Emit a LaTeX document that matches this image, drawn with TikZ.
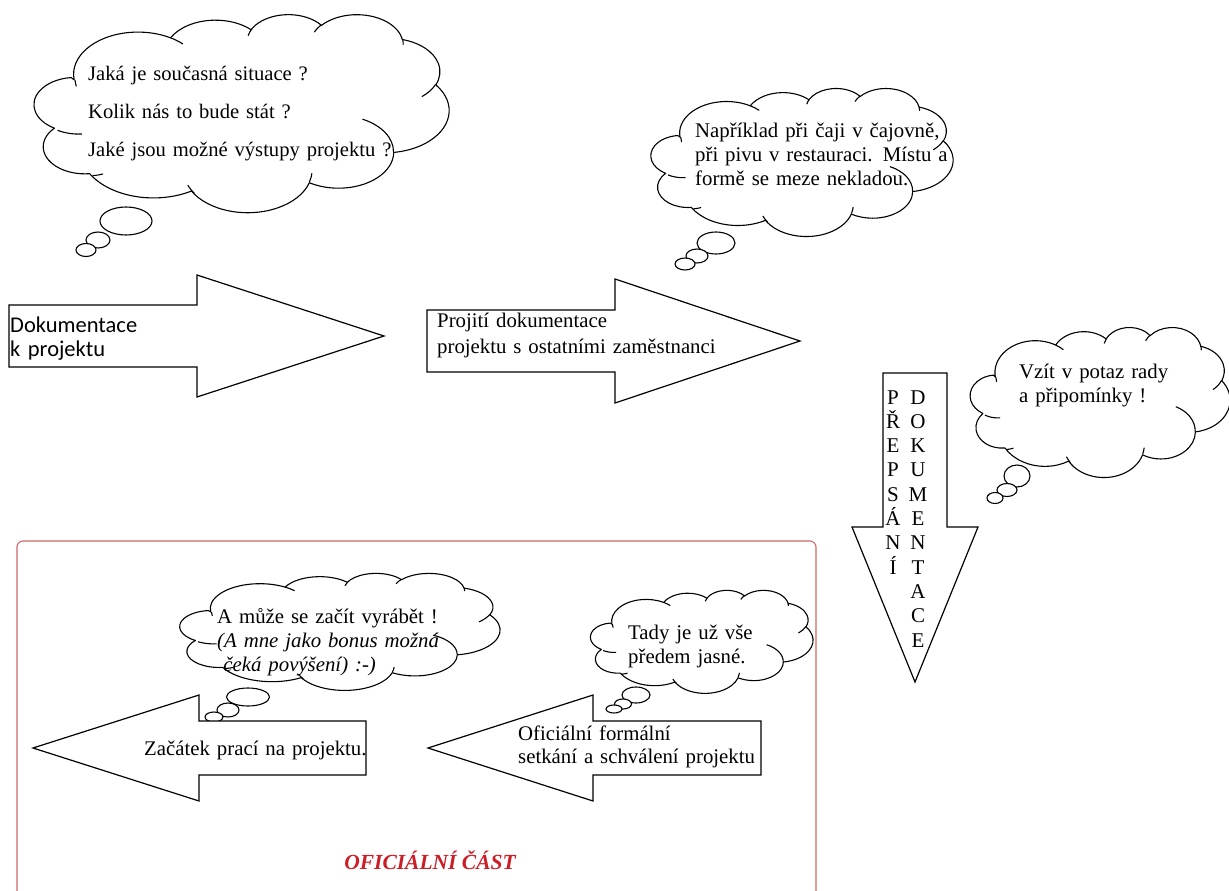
\documentclass[tikz,border=0pt]{standalone}
\usepackage{fontspec}
\setmainfont{Liberation Serif}
\newfontfamily\calibrifont{Carlito}
\definecolor{boxred}{RGB}{205,105,105}
\definecolor{titlered}{RGB}{205,30,40}
\newcommand\tnrwide{\fontsize{20.6}{38}\selectfont}
\newcommand\tnr{\fontsize{20.8}{24}\selectfont}
\newcommand\tnrcol{\fontsize{21}{24.3}\selectfont}
\newcommand\wordcloud[4]{%
 \pgfmathsetmacro\cwx{#3/43.2}%
 \pgfmathsetmacro\cwy{#4/43.2}%
 \begin{scope}[shift={(#1pt,-#2pt)}, x=1pt, y=1pt, xscale=\cwx, yscale=-\cwy]
  \draw[cloud line, fill=white] (3.9,14.37)
   arc[x radius=6.753, y radius=9.19, start angle={vang(-190.48748,6.753,9.19)}, end angle={vang(-66.70695,6.753,9.19)}]
   arc[x radius=5.333, y radius=7.267, start angle={vang(-144.10238,5.333,7.267)}, end angle={vang(-54.15715,5.333,7.267)}]
   arc[x radius=4.365, y radius=5.945, start angle={vang(-145.80792,4.365,5.945)}, end angle={vang(-46.0849,4.365,5.945)}]
   arc[x radius=4.857, y radius=6.595, start angle={vang(-130.98607,4.857,6.595)}, end angle={vang(-13.74434,4.857,6.595)}]
   arc[x radius=5.333, y radius=7.273, start angle={vang(-78.70888,5.333,7.273)}, end angle={vang(30.31804,5.333,7.273)}]
   arc[x radius=6.775, y radius=9.22, start angle={vang(-46.26725,6.775,9.22)}, end angle={vang(84.00175,6.775,9.22)}]
   arc[x radius=5.785, y radius=7.867, start angle={vang(0.62502,5.785,7.867)}, end angle={vang(114.65835,5.785,7.867)}]
   arc[x radius=6.752, y radius=9.215, start angle={vang(22.4624,6.752,9.215)}, end angle={vang(142.74988,6.752,9.215)}]
   arc[x radius=7.72, y radius=10.543, start angle={vang(66.24263,7.72,10.543)}, end angle={vang(141.94663,7.72,10.543)}]
   arc[x radius=4.36, y radius=5.918, start angle={vang(-274.94208,4.36,5.918)}, end angle={vang(-128.20651,4.36,5.918)}]
   arc[x radius=4.345, y radius=5.945, start angle={vang(-246.8285,4.345,5.945)}, end angle={vang(-94.30965,4.345,5.945)}]
   -- cycle;
  \draw[cloud line]
   (4.693,26.177) arc[x radius=4.345, y radius=5.945, start angle={vang(86.742,4.345,5.945)}, end angle={vang(113.1715,4.345,5.945)}]
   (6.928,34.899) arc[x radius=4.36, y radius=5.918, start angle={vang(73.61047,4.36,5.918)}, end angle={vang(85.05794,4.36,5.918)}]
   (16.478,39.09) arc[x radius=6.752, y radius=9.215, start angle={vang(137.62415,6.752,9.215)}, end angle={vang(151.70525,6.752,9.215)}]
   (28.827,34.751) arc[x radius=6.752, y radius=9.215, start angle={vang(6.45327,6.752,9.215)}, end angle={vang(22.45162,6.752,9.215)}]
   (34.129,22.954) arc[x radius=5.785, y radius=7.867, start angle={vang(-70.29235,5.785,7.867)}, end angle={vang(0.62502,5.785,7.867)}]
   (41.798,15.354) arc[x radius=5.333, y radius=7.273, start angle={vang(30.31803,5.333,7.273)}, end angle={vang(58.06953,5.333,7.273)}]
   (38.324,5.426) arc[x radius=4.857, y radius=6.595, start angle={vang(-13.74433,4.857,6.595)}, end angle={vang(1.11457,4.857,6.595)}]
   (29.078,3.952) arc[x radius=4.857, y radius=6.595, start angle={vang(-149.18145,4.857,6.595)}, end angle={vang(-130.98608,4.857,6.595)}]
   (22.141,4.72) arc[x radius=4.365, y radius=5.945, start angle={vang(-163.49427,4.365,5.945)}, end angle={vang(-145.80792,4.365,5.945)}]
   (14.0,5.192) arc[x radius=6.753, y radius=9.19, start angle={vang(-66.70695,6.753,9.19)}, end angle={vang(-54.3876,6.753,9.19)}]
   (4.127,15.789) arc[x radius=6.753, y radius=9.19, start angle={vang(163.69427,6.753,9.19)}, end angle={vang(175.67967,6.753,9.19)}];
 \end{scope}}
\begin{document}
\begin{tikzpicture}[x=1pt, y=-1pt,
  declare function={vang(\va,\vw,\vh)=atan2(\vw*sin(\va),\vh*cos(\va))+360*round((\va-atan2(\vw*sin(\va),\vh*cos(\va)))/360);},
  cloud line/.style={line width=1.1pt, black, line join=round},
  bubble/.style={line width=1.1pt, black, fill=white},
  arrowshape/.style={line width=1.2pt, black, fill=white, line join=miter},
  txt/.style={inner sep=0pt, anchor=base west, align=left, text width=#1},
  txt/.default=420pt,
  column/.style={inner sep=0pt, anchor=base, align=center, text width=20pt, font=\tnrcol},
  boxline/.style={line width=1.1pt, draw=boxred, rounded corners=6pt}]
\useasboundingbox[fill=white] (0,0) rectangle (1229,891);

% official part frame
\draw[boxline] (17,891) -- (17,541) -- (816,541) -- (816,891);

% cloud 1
\wordcloud{37}{14}{412}{198}
\draw[bubble] (126,221) ellipse[x radius=26, y radius=14];
\draw[bubble] (98,240) ellipse[x radius=12, y radius=8];
\draw[bubble] (86,250) ellipse[x radius=10, y radius=6.5];
\node[txt, font=\tnrwide] (q1) at (88,81) {Jaká je současná situace ?\\Kolik nás to bude stát ?\\Jaké jsou možné výstupy projektu ?};

% cloud 2
\wordcloud{653}{88}{300}{148}
\draw[bubble] (716,243) ellipse[x radius=19, y radius=11];
\draw[bubble] (697,256) ellipse[x radius=11, y radius=7];
\draw[bubble] (685,264) ellipse[x radius=10, y radius=6];
\node[txt, font=\tnr] (q2) at (695,137) {Například při čaji v čajovně,\\při pivu v restauraci. Místu a\\formě se meze nekladou.};

% cloud 3
\wordcloud{972}{327}{258}{150}
\draw[bubble] (1017,476) ellipse[x radius=13, y radius=11];
\draw[bubble] (1007,490) ellipse[x radius=10, y radius=6.5];
\draw[bubble] (995,498) ellipse[x radius=8, y radius=5.5];
\node[txt, font=\tnr] (q3) at (1019,378) {Vzít v potaz rady\\a připomínky !};

% arrow 1
\draw[arrowshape] (9,305) -- (197,305) -- (197,275) -- (384,336) -- (197,397) -- (197,367) -- (9,367) -- cycle;
\node[txt, font=\calibrifont\fontsize{22.5}{24}\selectfont] (a1) at (10,332) {Dokumentace\\k projektu};

% arrow 2
\draw[arrowshape] (427,310) -- (615,310) -- (615,279) -- (800,341) -- (615,403) -- (615,372) -- (427,372) -- cycle;
\node[txt, font=\fontsize{20.8}{26}\selectfont] (a2) at (437,327) {Projití dokumentace\\projektu s ostatními zaměstnanci};

% vertical arrow
\draw[arrowshape] (883,373) -- (947,373) -- (947,527) -- (978,527) -- (915,682) -- (852,527) -- (883,527) -- cycle;
\node[column] (v1) at (893,404) {P\\Ř\\E\\P\\S\\Á\\N\\Í};
\node[column] (v2) at (918,404) {D\\O\\K\\U\\M\\E\\N\\T\\A\\C\\E};

% cloud 4
\wordcloud{182}{573}{318}{117}
\draw[bubble] (248,697) ellipse[x radius=21.5, y radius=9];
\draw[bubble] (228,710) ellipse[x radius=11, y radius=7];
\draw[bubble] (214,717) ellipse[x radius=9, y radius=5];
\node[txt, font=\tnr] (q4) at (217,623) {A může se začít vyrábět !\\\itshape (A mne jako bonus možná\\\hspace*{0.3em}čeká povýšení) :-)};

% cloud 5
\wordcloud{592}{590}{221}{103}
\draw[bubble] (636,695) ellipse[x radius=14, y radius=8];
\draw[bubble] (623,704) ellipse[x radius=8.5, y radius=5];
\draw[bubble] (614,709) ellipse[x radius=8, y radius=4];
\node[txt, font=\tnr] (q5) at (628,639) {Tady je už vše\\předem jasné.};

% bottom arrows
\draw[arrowshape] (366,721) -- (199,721) -- (199,695) -- (33,748) -- (199,801) -- (199,775) -- (366,775) -- cycle;
\node[txt, font=\tnr] (b1) at (144,755) {Začátek prací na projektu.};
\draw[arrowshape] (761,721) -- (593,721) -- (593,695) -- (428,748) -- (593,801) -- (593,775) -- (761,775) -- cycle;
\node[txt, font=\fontsize{20.8}{23}\selectfont] (b2) at (518,740) {Oficiální formální\\setkání a schválení projektu};

% title of frame
\node[inner sep=0pt, anchor=base, text=titlered, font=\fontsize{21.5}{24}\selectfont\bfseries\itshape] (title) at (430,869) {OFICIÁLNÍ ČÁST};
\end{tikzpicture}
\end{document}
